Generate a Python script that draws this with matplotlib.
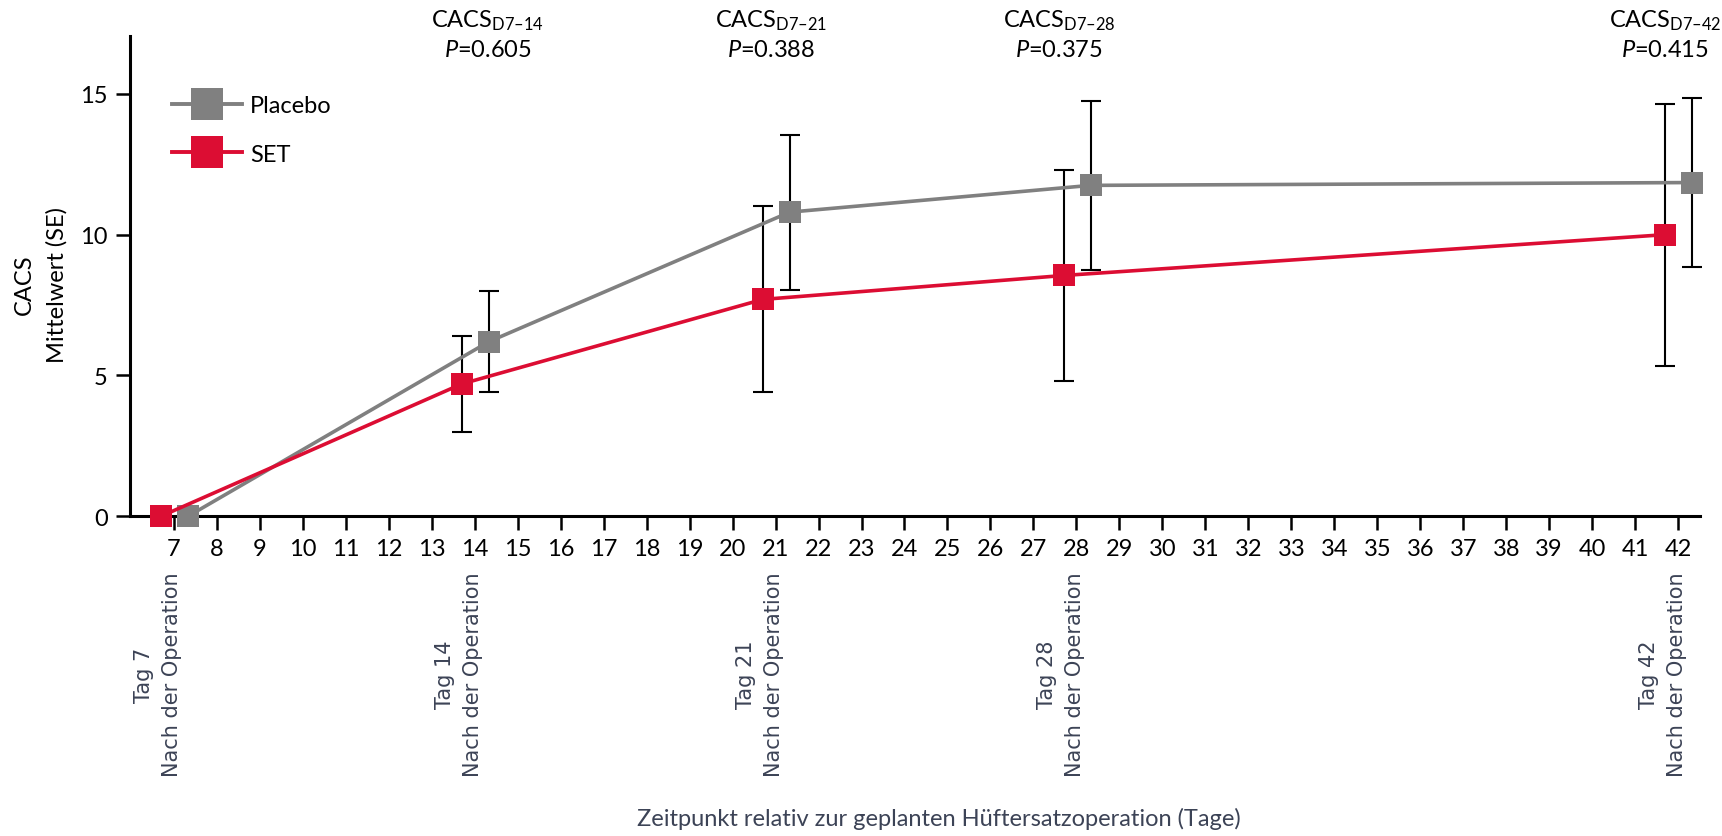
import matplotlib
matplotlib.use("Agg")
import matplotlib.pyplot as plt
import matplotlib.transforms as mtransforms
from matplotlib.lines import Line2D
import numpy as np

plt.rcParams['font.family'] = ['Lato', 'DejaVu Sans']
plt.rcParams['mathtext.fontset'] = 'custom'
plt.rcParams['mathtext.rm'] = 'Lato'
plt.rcParams['mathtext.it'] = 'Lato:italic'

# Daten (CACS Mittelwert und SE je Tag nach der Operation)
days = np.array([7, 14, 21, 28, 42])
placebo_mean = np.array([0, 6.2, 10.8, 11.75, 11.85])
placebo_se = np.array([np.nan, 1.8, 2.75, 3.0, 3.0])
set_mean = np.array([0, 4.7, 7.7, 8.55, 10.0])
set_se = np.array([np.nan, 1.7, 3.3, 3.75, 4.65])

p_labels = ["D7–14", "D7–21", "D7–28", "D7–42"]
p_values = ["0.605", "0.388", "0.375", "0.415"]
p_text_x = [14.3, 20.9, 27.6, 41.7]   # Textposition über dem Diagramm

tick_days = np.arange(7, 43)
day_labels = ["Tag 7", "Tag 14", "Tag 21", "Tag 28", "Tag 42"]

red = '#DC0D33'
grey = '#808080'
slate = '#3c4356'

fig = plt.figure(figsize=(17.22, 8.37), dpi=100)
ax = fig.add_axes([0.0755, 0.382, 0.9115, 0.574])

# Gruppen leicht versetzt
x_set = days - 0.3
x_pla = days + 0.33

ax.errorbar(x_pla, placebo_mean, yerr=placebo_se, fmt='none', ecolor='black',
            elinewidth=1.5, capsize=7, capthick=1.5, zorder=2, clip_on=False)
ax.errorbar(x_set, set_mean, yerr=set_se, fmt='none', ecolor='black',
            elinewidth=1.5, capsize=7, capthick=1.5, zorder=2, clip_on=False)

ax.plot(x_pla, placebo_mean, color=grey, lw=2.6, marker='s', markersize=16,
        markeredgewidth=0, zorder=3, clip_on=False)
ax.plot(x_set, set_mean, color=red, lw=2.6, marker='s', markersize=16,
        markeredgewidth=0, zorder=4, clip_on=False)

ax.set_xlim(5.98, 42.5)
ax.set_ylim(0, 17.06)
ax.set_xticks(tick_days)
ax.set_yticks([0, 5, 10, 15])
ax.tick_params(axis='both', labelsize=17, width=1.8, length=10, direction='out')
ax.tick_params(axis='x', pad=6)
ax.tick_params(axis='y', pad=6)
for side in ['top', 'right']:
    ax.spines[side].set_visible(False)
for side in ['left', 'bottom']:
    ax.spines[side].set_linewidth(2.2)

# Achsentitel
fig.text(0.014, 0.66, "CACS", rotation=90, ha='center', va='center', fontsize=17)
fig.text(0.033, 0.66, "Mittelwert (SE)", rotation=90, ha='center', va='center', fontsize=17)
fig.text(0.545, 0.021, "Zeitpunkt relativ zur geplanten Hüftersatzoperation (Tage)",
         ha='center', va='center', fontsize=17, color=slate)

# gedrehte Tagesbeschriftungen
trans = mtransforms.blended_transform_factory(ax.transData, ax.transAxes)
for d, lab in zip(days, day_labels):
    ax.text(d - 0.36, -0.3285, lab + "\nNach der Operation", transform=trans,
            rotation=90, ha='center', va='center', multialignment='center',
            fontsize=15, color=slate, family='DejaVu Sans', linespacing=1.5,
            clip_on=False)

# P-Werte
for xp, lab, pv in zip(p_text_x, p_labels, p_values):
    ax.text(xp, 1.019, "CACS$_{\\mathrm{" + lab + "}}$", transform=trans,
            ha='center', va='baseline', fontsize=17, clip_on=False)
    ax.text(xp, 0.957, "$P$=" + pv, transform=trans,
            ha='center', va='baseline', fontsize=17, clip_on=False)

handles = [Line2D([], [], color=grey, lw=2.8, marker='s', markersize=23, markeredgewidth=0),
           Line2D([], [], color=red, lw=2.8, marker='s', markersize=23, markeredgewidth=0)]
ax.legend(handles, ["Placebo", "SET"], loc='upper left', bbox_to_anchor=(0.027, 0.877),
          frameon=False, fontsize=17, handlelength=2.95, handletextpad=0.35,
          labelspacing=1.17, borderpad=0, borderaxespad=0)

fig.savefig("out.png", dpi=100)
